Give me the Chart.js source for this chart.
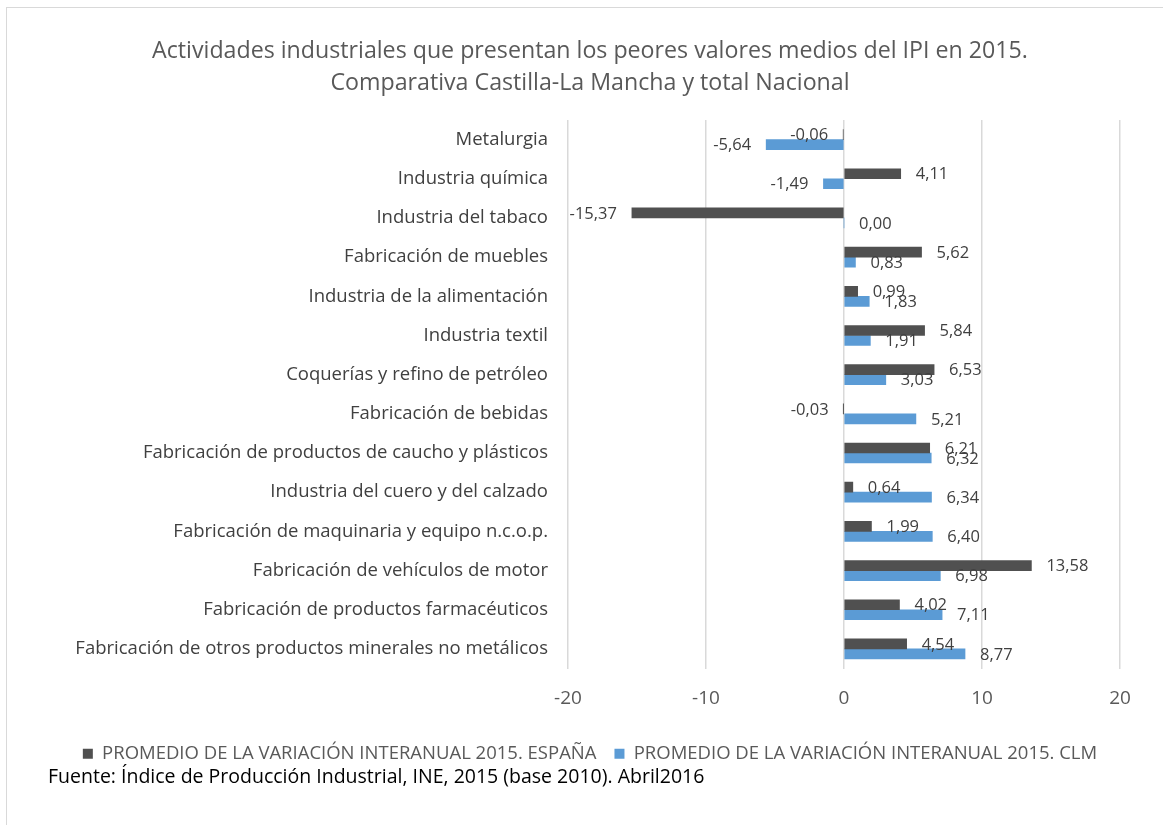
<!DOCTYPE html>
<html>
<head>
<meta charset="utf-8">
<script src="https://cdn.jsdelivr.net/npm/chart.js@4"></script>
<style>
  html, body { margin: 0; padding: 0; background: #fff; }
  body { width: 1163px; height: 825px; position: relative; overflow: hidden; font-family: "Open Sans", sans-serif; }
  #frame { position: absolute; left: 6px; top: 7px; width: 1300px; height: 1000px; border: 1px solid #d9d9d9; box-sizing: border-box; }
  #wrap { position: absolute; left: 0; top: 0; width: 1163px; height: 825px; }
  #source { position: absolute; left: 48px; top: 763px; font-size: 19.5px; line-height: 26px; color: #000; white-space: nowrap; }
</style>
</head>
<body>
<div id="frame"></div>
<div id="wrap"><canvas id="c" width="1163" height="825"></canvas></div>
<div id="source">Fuente: Índice de Producción Industrial, INE, 2015 (base 2010). Abril2016</div>
<script>
const categories = [
  "Metalurgia",
  "Industria química",
  "Industria del tabaco",
  "Fabricación de muebles",
  "Industria de la alimentación",
  "Industria textil",
  "Coquerías y refino de petróleo",
  "Fabricación de bebidas",
  "Fabricación de productos de caucho y plásticos",
  "Industria del cuero y del calzado",
  "Fabricación de maquinaria y equipo n.c.o.p.",
  "Fabricación de vehículos de motor",
  "Fabricación de productos farmacéuticos",
  "Fabricación de otros productos minerales no metálicos"
];
const espana = [-0.06, 4.11, -15.37, 5.62, 0.99, 5.84, 6.53, -0.03, 6.21, 0.64, 1.99, 13.58, 4.02, 4.54];
const clm = [-5.64, -1.49, 0.00, 0.83, 1.83, 1.91, 3.03, 5.21, 6.32, 6.34, 6.40, 6.98, 7.11, 8.77];
const seriesNames = ["PROMEDIO DE LA VARIACIÓN INTERANUAL 2015. ESPAÑA", "PROMEDIO DE LA VARIACIÓN INTERANUAL 2015. CLM"];
const titleLines = ["Actividades industriales que presentan los peores valores medios del IPI en 2015.", "Comparativa Castilla-La Mancha y total Nacional"];
const xTicks = [-20, -10, 0, 10, 20];

const FONT = "'Open Sans', sans-serif";

const labelPlugin = {
  id: 'barLabels',
  afterDatasetsDraw(chart) {
    const ctx = chart.ctx;
    ctx.save();
    ctx.font = "16.5px " + FONT;
    ctx.fillStyle = "#404040";
    ctx.textBaseline = "middle";
    chart.data.datasets.forEach((ds, di) => {
      const meta = chart.getDatasetMeta(di);
      meta.data.forEach((el, i) => {
        const v = ds.data[i];
        const txt = v.toFixed(2).replace('.', ',');
        if (v < 0) {
          ctx.textAlign = "right";
          ctx.fillText(txt, el.x - 15, el.y + 1);
        } else {
          ctx.textAlign = "left";
          ctx.fillText(txt, el.x + 15, el.y + 1);
        }
      });
    });
    ctx.restore();
  }
};

new Chart(document.getElementById('c'), {
  type: 'bar',
  data: {
    labels: categories,
    datasets: [
      { label: seriesNames[0], data: espana, backgroundColor: '#505050', barThickness: 10 },
      { label: seriesNames[1], data: clm, backgroundColor: '#5b9bd5', barThickness: 10 }
    ]
  },
  options: {
    indexAxis: 'y',
    responsive: false,
    animation: false,
    devicePixelRatio: 1,
    layout: { padding: { top: 35, left: 60, right: 43, bottom: 52 } },
    scales: {
      x: {
        min: -20, max: 20,
        afterBuildTicks(scale) { scale.ticks = xTicks.map(v => ({ value: v })); },
        grid: { color: '#d9d9d9', lineWidth: 1.5, drawTicks: false },
        border: { display: false },
        ticks: { color: '#595959', font: { family: FONT, size: 19 }, padding: 19 },
        afterFit(scale) { scale.height = 58; }
      },
      y: {
        grid: { display: false, drawTicks: false },
        border: { display: false },
        ticks: { color: '#404040', font: { family: FONT, size: 18.5 }, padding: 20, autoSkip: false },
        afterFit(scale) { scale.width = 508; }
      }
    },
    plugins: {
      title: {
        display: true,
        text: titleLines,
        color: '#595959',
        font: { family: FONT, size: 23.2, weight: 'normal', lineHeight: 32 / 23.2 },
        padding: { top: 0, bottom: 21 }
      },
      legend: {
        position: 'bottom',
        labels: { color: '#595959', font: { family: FONT, size: 18.5 }, boxWidth: 10, boxHeight: 10, padding: 18 }
      },
      tooltip: { enabled: false }
    }
  },
  plugins: [labelPlugin]
});
</script>
</body>
</html>
